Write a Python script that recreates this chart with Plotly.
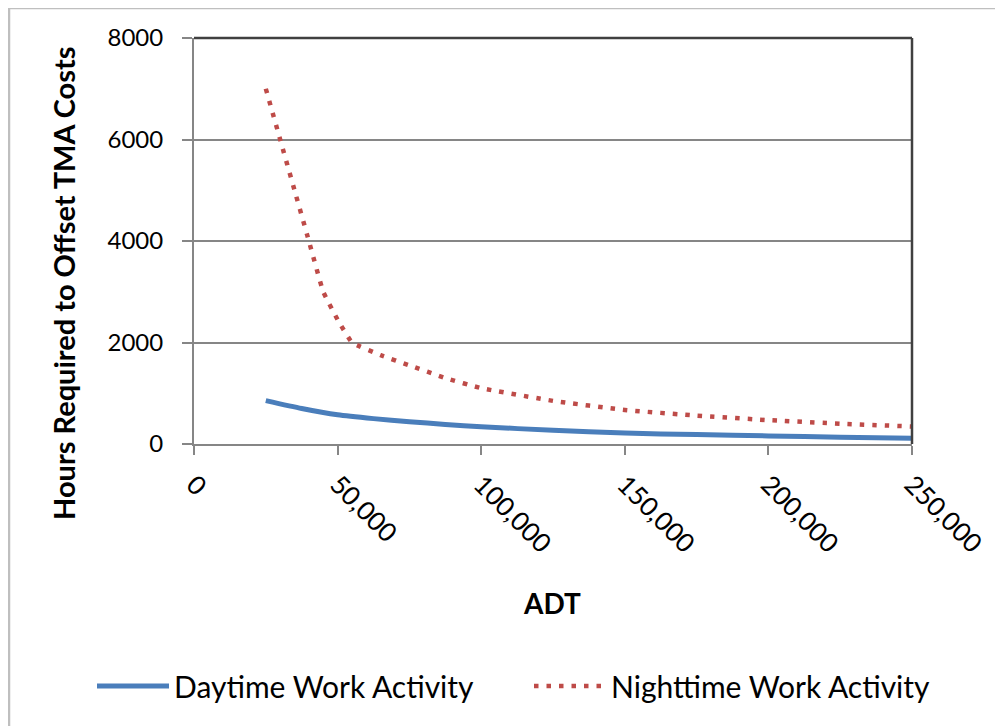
import plotly.graph_objects as go

# Data
day_adt = [25000, 37500, 50000, 62500, 75000, 87500, 100000, 125000, 150000, 175000, 200000, 225000, 250000]
day_hours = [855, 700, 575, 500, 440, 385, 340, 270, 215, 185, 160, 135, 115]

night_adt = [25000, 30000, 35000, 40000, 45000, 50000, 55000, 65000, 75000, 87500, 100000, 125000, 150000, 175000, 200000, 225000, 250000]
night_hours = [7000, 6000, 5000, 4000, 3000, 2450, 2000, 1750, 1550, 1300, 1100, 850, 670, 560, 470, 400, 345]

x_ticks = [0, 50000, 100000, 150000, 200000, 250000]
x_tick_labels = ["0", "50,000", "100,000", "150,000", "200,000", "250,000"]
y_ticks = [0, 2000, 4000, 6000, 8000]

FONT = "Lato, Carlito, Calibri, sans-serif"

fig = go.Figure()
fig.add_trace(go.Scatter(
    x=day_adt, y=day_hours, mode="lines", name="Daytime Work Activity",
    line=dict(color="#4A7EBB", width=5, shape="spline", smoothing=0.6),
))
fig.add_trace(go.Scatter(
    x=night_adt, y=night_hours, mode="lines", name="Nighttime Work Activity",
    line=dict(color="#BE4B48", width=4.5, dash="4.5px,8px", shape="spline", smoothing=0.3),
))

OFF = 8  # page body margin
W, H = 1003 - OFF, 726 - OFF
L, R, T, B = 194 - OFF, 912 - OFF, 38 - OFF, 444 - OFF
pw, ph = R - L, B - T

def px_x(p):
    return (p - OFF - L) / pw

def px_y(p):
    return (B - (p - OFF)) / ph

fig.update_layout(
    width=W, height=H,
    margin=dict(l=L, r=W - R, t=T, b=H - B, pad=0),
    paper_bgcolor="white", plot_bgcolor="white",
    font=dict(family=FONT, color="#000000", size=24),
    showlegend=True,
    legend=dict(orientation="h", x=px_x(92), xanchor="left", y=px_y(686), yanchor="middle",
                font=dict(family=FONT, size=30, color="#000000"), itemwidth=72,
                entrywidth=350, bgcolor="rgba(0,0,0,0)"),
    xaxis=dict(range=[0, 250000], tickvals=x_ticks, ticktext=x_tick_labels, tickangle=45,
               showgrid=False, zeroline=False, showline=True, linecolor="#868686", linewidth=2,
               ticks="outside", ticklen=9, tickwidth=2, tickcolor="#868686", ticklabelstandoff=4,
               tickfont=dict(family=FONT, size=26, color="#000000")),
    yaxis=dict(range=[0, 8000], tickvals=y_ticks, showgrid=True, gridcolor="#868686", gridwidth=2,
               zeroline=False, showline=True, linecolor="#868686", linewidth=2,
               ticks="outside", ticklen=10, tickwidth=2, tickcolor="#868686", ticklabelstandoff=14,
               tickfont=dict(family=FONT, size=24, color="#000000")),
    shapes=[
        dict(type="rect", xref="paper", yref="paper", x0=px_x(9), x1=px_x(1012), y0=px_y(8), y1=px_y(735),
             line=dict(color="#BFBFBF", width=2.5), layer="below"),
        dict(type="line", xref="paper", yref="paper", x0=0, x1=1, y0=1, y1=1,
             line=dict(color="#404040", width=2.5)),
        dict(type="line", xref="paper", yref="paper", x0=1, x1=1, y0=0, y1=1,
             line=dict(color="#404040", width=2.5)),
    ],
    annotations=[
        dict(text="<b>Hours Required to Offset TMA Costs</b>", xref="paper", yref="paper",
             x=px_x(63), y=px_y(283), textangle=-90, showarrow=False,
             font=dict(family=FONT, size=29, color="#000000"), xanchor="center", yanchor="middle"),
        dict(text="<b>ADT</b>", xref="paper", yref="paper", x=px_x(552), y=px_y(603),
             showarrow=False, font=dict(family=FONT, size=28, color="#000000"),
             xanchor="center", yanchor="middle"),
    ],
)

fig.write_html("out.html")
